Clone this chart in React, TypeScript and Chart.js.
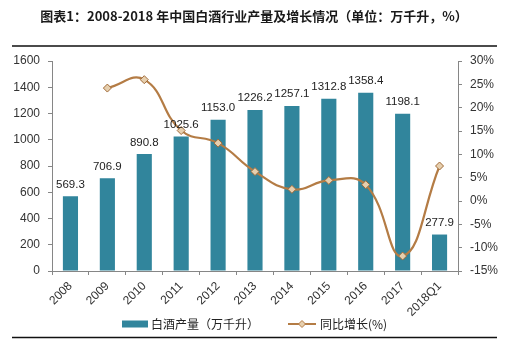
import { useEffect, useRef } from "react";
import { Chart, registerables } from "chart.js";

Chart.register(...registerables);

const titleText = "图表1：2008-2018 年中国白酒行业产量及增长情况（单位：万千升，%）";
const categories = ["2008", "2009", "2010", "2011", "2012", "2013", "2014", "2015", "2016", "2017", "2018Q1"];
const production = [569.3, 706.9, 890.8, 1025.6, 1153.0, 1226.2, 1257.1, 1312.8, 1358.4, 1198.1, 277.9];
const growth = [null, 24.2, 26.0, 15.1, 12.4, 6.3, 2.5, 4.4, 3.5, -11.8, 7.5];
const productionName = "白酒产量（万千升）";
const growthName = "同比增长(%)";
const leftMin = 0;
const leftMax = 1600;
const leftStep = 200;
const rightMin = -15;
const rightMax = 30;
const rightStep = 5;

const BAR_COLOR = "#31859C";
const LINE_COLOR = "#B47C45";
const MARKER_FILL = "#E6CFAE";
const AXIS_COLOR = "#868686";
const TEXT_COLOR = "#333";
const NUM_FONT = "'Liberation Sans', Arial, sans-serif";
const CJK_FONT = "'Noto Sans CJK SC', 'Liberation Sans', sans-serif";

const decorPlugin = {
  id: "decor",
  afterDatasetsDraw(chart: any) {
    const ctx = chart.ctx;
    const meta = chart.getDatasetMeta(0);
    ctx.save();
    ctx.font = `11.5px ${NUM_FONT}`;
    ctx.fillStyle = "#222";
    ctx.textAlign = "center";
    ctx.textBaseline = "bottom";
    meta.data.forEach((bar: any, i: number) => {
      ctx.fillText(production[i].toFixed(1), bar.x, bar.y - 6);
    });
    ctx.restore();
  },
  afterDraw(chart: any) {
    const ctx = chart.ctx;
    ctx.save();
    // title
    ctx.font = `bold 13px ${CJK_FONT}`;
    ctx.fillStyle = "#1a1a1a";
    ctx.textAlign = "center";
    ctx.textBaseline = "middle";
    ctx.fillText(titleText, 254, 16);
    // rules
    ctx.strokeStyle = "#111";
    ctx.lineWidth = 1.5;
    ctx.beginPath();
    ctx.moveTo(12, 46);
    ctx.lineTo(497, 46);
    ctx.moveTo(12, 337.5);
    ctx.lineTo(497, 337.5);
    ctx.stroke();
    // legend
    const ly = 324;
    ctx.fillStyle = BAR_COLOR;
    ctx.fillRect(122, ly - 3.5, 26, 7);
    ctx.font = `12px ${CJK_FONT}`;
    ctx.fillStyle = "#222";
    ctx.textAlign = "left";
    ctx.textBaseline = "middle";
    ctx.fillText(productionName, 151, ly);
    ctx.strokeStyle = LINE_COLOR;
    ctx.lineWidth = 2;
    ctx.beginPath();
    ctx.moveTo(288, ly);
    ctx.lineTo(316, ly);
    ctx.stroke();
    ctx.fillStyle = MARKER_FILL;
    ctx.lineWidth = 1;
    ctx.beginPath();
    ctx.moveTo(302, ly - 3.5);
    ctx.lineTo(305.5, ly);
    ctx.lineTo(302, ly + 3.5);
    ctx.lineTo(298.5, ly);
    ctx.closePath();
    ctx.fill();
    ctx.stroke();
    ctx.fillStyle = "#222";
    ctx.fillText(growthName, 320, ly);
    ctx.restore();
  },
};

export default function App() {
  const ref = useRef<HTMLCanvasElement>(null);

  useEffect(() => {
    if (!ref.current) return;
    const tickFont = { family: NUM_FONT, size: 12 };
    const chart = new Chart(ref.current, {
      type: "bar",
      data: {
        labels: categories,
        datasets: [
          {
            type: "bar",
            label: productionName,
            data: production,
            backgroundColor: BAR_COLOR,
            yAxisID: "y",
            categoryPercentage: 1,
            barPercentage: 0.41,
            order: 2,
          },
          {
            type: "line",
            label: growthName,
            data: growth as any,
            yAxisID: "y1",
            borderColor: LINE_COLOR,
            borderWidth: 2.2,
            tension: 0.45,
            pointStyle: "rectRot",
            pointRadius: 4,
            pointBackgroundColor: MARKER_FILL,
            pointBorderColor: "#A06A38",
            pointBorderWidth: 1,
            spanGaps: false,
            order: 1,
          },
        ],
      } as any,
      options: {
        responsive: false,
        animation: false,
        layout: { padding: { top: 61, left: 0, right: 0, bottom: 0 } },
        plugins: {
          legend: { display: false },
          title: { display: false },
          tooltip: { enabled: false },
        },
        scales: {
          x: {
            offset: true,
            grid: { offset: true, drawOnChartArea: false, drawTicks: true, tickLength: 4, color: AXIS_COLOR },
            border: { color: AXIS_COLOR },
            ticks: { minRotation: 45, maxRotation: 45, font: tickFont, color: TEXT_COLOR, padding: 4, autoSkip: false },
            afterFit: (s: any) => {
              s.height = 78;
            },
          },
          y: {
            position: "left",
            min: leftMin,
            max: leftMax,
            grid: { drawOnChartArea: false, drawTicks: true, tickLength: 4, color: AXIS_COLOR },
            border: { color: AXIS_COLOR },
            ticks: { stepSize: leftStep, font: tickFont, color: TEXT_COLOR, padding: 8, callback: (v: any) => `${v}` },
            afterFit: (s: any) => {
              s.width = 52;
            },
          },
          y1: {
            position: "right",
            min: rightMin,
            max: rightMax,
            grid: { drawOnChartArea: false, drawTicks: true, tickLength: 4, color: AXIS_COLOR },
            border: { color: AXIS_COLOR },
            ticks: {
              stepSize: rightStep,
              font: tickFont,
              color: TEXT_COLOR,
              padding: 8,
              callback: (v: any) => `${v}%`,
            },
            afterFit: (s: any) => {
              s.width = 57;
            },
          },
        },
      } as any,
      plugins: [decorPlugin],
    });
    return () => chart.destroy();
  }, []);

  return (
    <div style={{ position: "fixed", left: 0, top: 0, width: 515, height: 349, background: "#fff" }}>
      <canvas ref={ref} width={515} height={349} style={{ width: 515, height: 349, display: "block" }} />
    </div>
  );
}
